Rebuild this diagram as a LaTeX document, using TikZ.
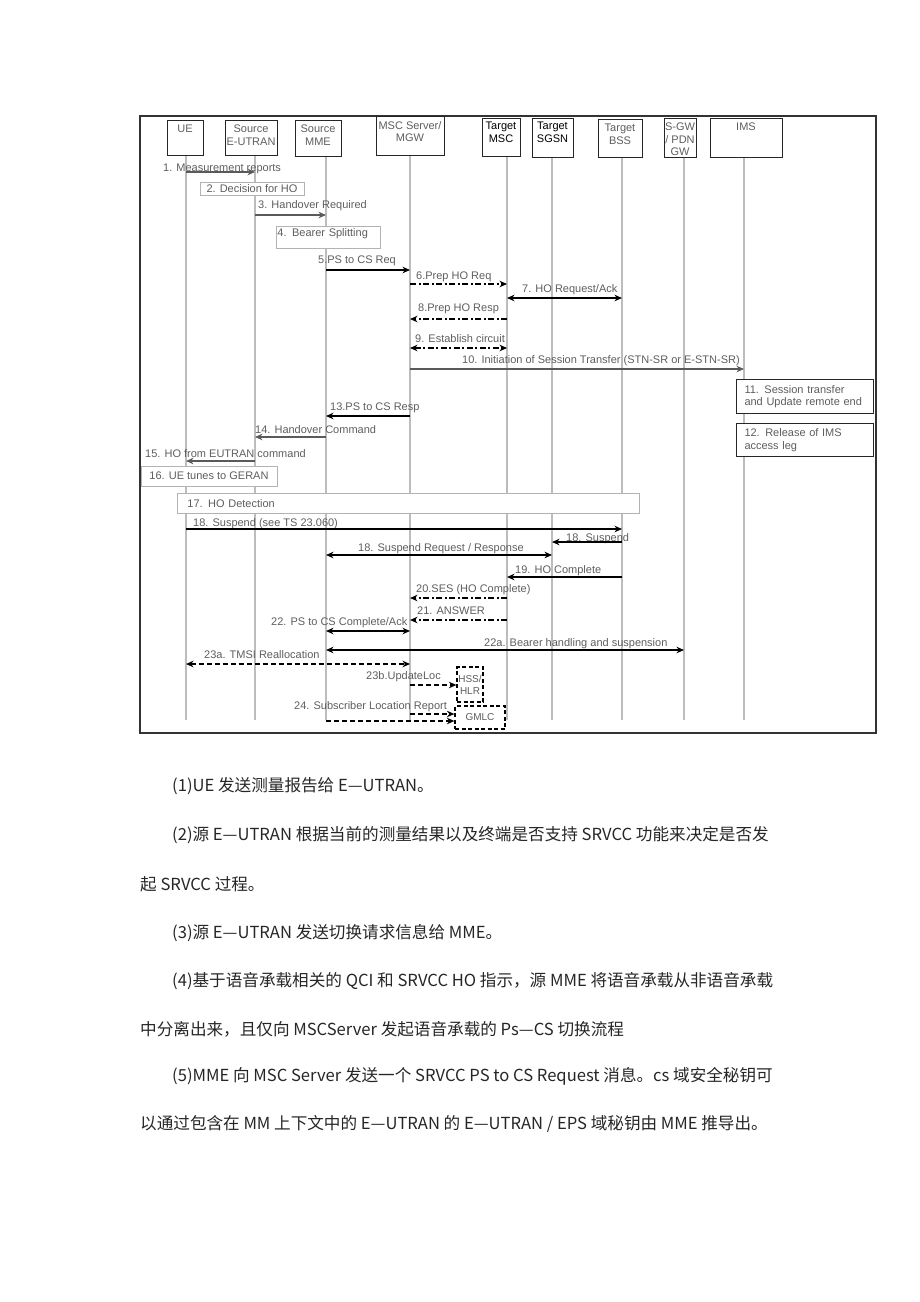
\documentclass[tikz,border=0pt]{standalone}
\usepackage{fontspec}
\setmainfont{Liberation Sans}
\newfontfamily\cjk{Noto Sans CJK SC}
\usetikzlibrary{arrows.meta}
\definecolor{txtgray}{HTML}{5E5E5E}
\definecolor{lifegray}{HTML}{BDBDBD}
\definecolor{boxgray}{HTML}{B3B3B3}
\definecolor{arrgray}{HTML}{5A5A5A}

\begin{document}
\begin{tikzpicture}[x=1pt,y=-1pt,font=\fontsize{11}{12.5}\selectfont,
    >={Stealth[length=7.5pt,width=6.5pt]},
    life/.style={lifegray,line width=1.2pt},
    head/.style={draw=black!85,fill=white,line width=1pt,inner sep=0pt,
      label={[anchor=north,align=center,inner sep=1.5pt,yshift=-4pt,text=txtgray]north:#1}},
    headk/.style={draw=black!85,fill=white,line width=1pt,inner sep=0pt,
      label={[anchor=north,align=center,inner sep=1.5pt,yshift=-3pt,text=black]north:#1}},
    note/.style={draw=boxgray,fill=white,line width=0.8pt,inner sep=1pt,text=txtgray},
    box/.style={draw=black!85,fill=white,line width=1pt,inner ysep=1pt,inner xsep=8pt,
      align=left,text=txtgray},
    dbox/.style={draw=black,fill=white,line width=1.2pt,dash pattern=on 4pt off 2.5pt,
      inner sep=0.5pt,align=center,text=txtgray,font=\fontsize{10}{12}\selectfont},
    lab/.style={anchor=west,inner sep=0pt,yshift=-2pt,text=txtgray},
    msg/.style={->,line width=1.3pt},
    gmsg/.style={msg,arrgray},
    ddmsg/.style={msg,dash pattern=on 6pt off 2.5pt on 2pt off 2.5pt},
    dmsg/.style={msg,dash pattern=on 5pt off 3pt},
    cn/.style={anchor=west,inner sep=0pt,text=black!85,font=\cjk\fontsize{16.6}{17}\selectfont}]
    \useasboundingbox (0,0) rectangle (920,1302);

    %frame
    \draw[line width=1.5pt,black!80] (140,116) rectangle (876,733);

    %lifelines
    \foreach \n/\x/\t in {ue/186/155,enb/255/155,mme/326/156,msc/410/155,tmsc/507/156,
                          sgsn/552/157,bss/622/157,sgw/684/157,ims/744/157}{
      \coordinate (\n) at (\x,\t);
      \draw[life] (\n) -- (\x,720);
    }

    %heads
    \node[head=UE,minimum width=36pt,minimum height=35pt] (ueH) at (185,137.5) {};
    \node[head={Source\\E-UTRAN},minimum width=52pt,minimum height=35pt] (enbH) at (251,137.5) {};
    \node[head={Source\\MME},minimum width=46pt,minimum height=36pt] (mmeH) at (318,138) {};
    \node[head={MSC Server/\\MGW},minimum width=68pt,minimum height=39pt] (mscH) at (410,135.5) {};
    \node[headk={Target\\MSC},minimum width=38pt,minimum height=38pt] (tmscH) at (501,137) {};
    \node[headk={Target\\SGSN},minimum width=41pt,minimum height=39pt] (sgsnH) at (552.5,137.5) {};
    \node[head={Target\\BSS},minimum width=44pt,minimum height=38pt] (bssH) at (620,138) {};
    \node[head={S-GW\\/ PDN\\GW},minimum width=32pt,minimum height=39pt] (sgwH) at (680,137.5) {};
    \node[head=IMS,minimum width=72pt,minimum height=39pt] (imsH) at (746,137.5) {};

    % 1 - 5
    \draw[gmsg] (ue |- 0,172) -- (enb |- 0,172);
    \node[lab] (m1) at (163,167) {1. Measurement reports};
    \node[note,minimum width=104pt,minimum height=13pt] (d2) at (252,188.5) {2. Decision for HO};
    \node[lab] (m3) at (258,204) {3. Handover Required};
    \draw[gmsg] (enb |- 0,215) -- (mme |- 0,215);
    \node[note,anchor=north west,text width=102pt,align=left,text height=9pt,text depth=11pt]
         (bs4) at (276,226) {4. Bearer Splitting};
    \node[lab] (m5) at (318,259) {5.PS to CS Req};
    \draw[msg] (mme |- 0,270) -- (msc |- 0,270);

    % 6 - 10
    \node[lab] (m6) at (416,275) {6.Prep HO Req};
    \draw[ddmsg] (msc |- 0,284) -- (tmsc |- 0,284);
    \node[lab] (m7) at (522,288) {7. HO Request/Ack};
    \draw[msg,<->] (tmsc |- 0,298) -- (bss |- 0,298);
    \node[lab] (m8) at (418,307) {8.Prep HO Resp};
    \draw[ddmsg] (tmsc |- 0,319) -- (msc |- 0,319);
    \node[lab] (m9) at (415,337) {9. Establish circuit};
    \draw[ddmsg,<->] (msc |- 0,348) -- (tmsc |- 0,348);
    \node[lab] (m10) at (462,359) {10. Initiation of Session Transfer (STN-SR or E-STN-SR)};
    \draw[gmsg] (msc |- 0,369) -- (ims |- 0,369);

    % IMS side
    \node[box,anchor=north west,text width=121pt,minimum height=34pt] (s11) at (736,379)
         {11. Session transfer\\and Update remote end};
    \node[box,anchor=north west,text width=121pt,minimum height=33pt] (s12) at (736,423)
         {12. Release of IMS\\access leg};

    % 13 - 17
    \node[lab] (m13) at (330,406) {13.PS to CS Resp};
    \draw[msg] (msc |- 0,416) -- (mme |- 0,416);
    \node[lab] (m14) at (255,428) {14. Handover Command};
    \draw[gmsg] (mme |- 0,437) -- (enb |- 0,437);
    \node[lab] (m15) at (145,452) {15. HO from EUTRAN command};
    \draw[gmsg] (enb |- 0,461) -- (ue |- 0,461);
    \node[note,minimum width=136pt,minimum height=20pt] (t16) at (209,476) {16. UE tunes to GERAN};
    \node[note,anchor=north west,inner xsep=10pt,text width=442pt,align=left,minimum height=20pt]
         (d17) at (177,493) {17. HO Detection};

    % 18 - 22a
    \node[lab] (m18) at (193,522) {18. Suspend (see TS 23.060)};
    \draw[msg] (ue |- 0,529) -- (bss |- 0,529);
    \node[lab] (m18b) at (566,537) {18. Suspend};
    \draw[msg] (bss |- 0,542) -- (sgsn |- 0,542);
    \node[lab] (m18c) at (358,547) {18. Suspend Request / Response};
    \draw[msg,<->] (mme |- 0,555) -- (sgsn |- 0,555);
    \node[lab] (m19) at (515,569) {19. HO Complete};
    \draw[msg] (bss |- 0,577) -- (tmsc |- 0,577);
    \node[lab] (m20) at (416,588) {20.SES (HO Complete)};
    \draw[ddmsg] (tmsc |- 0,598) -- (msc |- 0,598);
    \node[lab] (m21) at (417,609) {21. ANSWER};
    \draw[ddmsg] (tmsc |- 0,620) -- (msc |- 0,620);
    \node[lab] (m22) at (271,621) {22. PS to CS Complete/Ack};
    \draw[msg,<->] (mme |- 0,631) -- (msc |- 0,631);
    \node[lab] (m22a) at (484,642) {22a. Bearer handling and suspension};
    \draw[msg,<->] (mme |- 0,650) -- (sgw |- 0,650);

    % 23 - 24
    \node[lab] (m23a) at (204,653) {23a. TMSI Reallocation};
    \draw[dmsg,<->] (ue |- 0,664) -- (msc |- 0,664);
    \node[lab] (m23b) at (366,675) {23b.UpdateLoc};
    \node[dbox,minimum width=26pt,minimum height=35pt] (hss) at (470,684.5) {HSS/\\HLR};
    \draw[dmsg] (msc |- 0,685) -- (hss.west |- 0,685);
    \node[lab] (m24) at (294,705) {24. Subscriber Location Report};
    \node[dbox,minimum width=50pt,minimum height=23pt] (gmlc) at (480,717.5) {GMLC};
    \draw[dmsg] (msc |- 0,714) -- (gmlc.west |- 0,714);
    \draw[dmsg] (mme |- 0,721) -- (gmlc.west |- 0,721);

    %text below
    \node[cn] (p1) at (172,786) {(1)UE 发送测量报告给 E—UTRAN。};
    \node[cn] (p2) at (172,835) {(2)源 E—UTRAN 根据当前的测量结果以及终端是否支持 SRVCC 功能来决定是否发};
    \node[cn] (p3) at (140,884) {起 SRVCC 过程。};
    \node[cn] (p4) at (172,933) {(3)源 E—UTRAN 发送切换请求信息给 MME。};
    \node[cn] (p5) at (172,981) {(4)基于语音承载相关的 QCI 和 SRVCC HO 指示，源 MME 将语音承载从非语音承载};
    \node[cn] (p6) at (140,1029) {中分离出来，且仅向 MSCServer 发起语音承载的 Ps—CS 切换流程};
    \node[cn] (p7) at (172,1076) {(5)MME 向 MSC Server 发送一个 SRVCC PS to CS Request 消息。cs 域安全秘钥可};
    \node[cn] (p8) at (140,1124) {以通过包含在 MM 上下文中的 E—UTRAN 的 E—UTRAN / EPS 域秘钥由 MME 推导出。};
  \end{tikzpicture}
\end{document}
